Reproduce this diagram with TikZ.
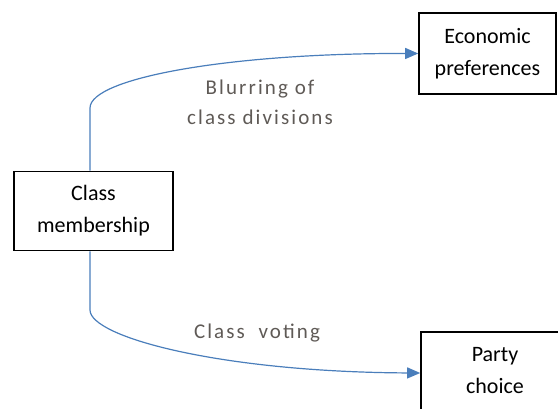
\documentclass[tikz,border=0pt]{standalone}
\usepackage{fontspec}
\setmainfont{Carlito}
\newfontfamily\spacedfont[LetterSpace=10]{Carlito}
\usetikzlibrary{arrows.meta}
\definecolor{linkblue}{RGB}{74,126,187}
\definecolor{labelgray}{RGB}{95,90,86}
\tikzset{
  boxnode/.style={draw=black, line width=1.6pt, fill=white, align=center,
    font=\fontsize{22}{32}\selectfont, inner sep=0pt},
  linkarrow/.style={draw=linkblue, line width=1.2pt,
    -{Triangle[length=13pt,width=11pt]}},
  linklabel/.style={text=labelgray, align=center,
    font=\spacedfont\fontsize{21}{30}\selectfont}
}
\begin{document}
\begin{tikzpicture}[x=1pt,y=-1pt]
\useasboundingbox (0,0) rectangle (558,408);
\node[boxnode, minimum width=159pt, minimum height=79pt] (cm) at (93.5,211) {Class\\membership};
\node[boxnode, minimum width=137pt, minimum height=81pt] (ep) at (487.5,53.5) {Economic\\preferences};
\node[boxnode, minimum width=148pt, minimum height=78pt] (pc) at (495,371) {Party\\choice};
\coordinate (up) at (90,108);
\coordinate (down) at (90,310);
\draw[linkarrow] ([xshift=-3.5pt]cm.north) -- (up) .. controls (90,78) and (230,53) .. (ep.west);
\draw[linkarrow] ([xshift=-3.5pt]cm.south) -- (down) .. controls (90,337) and (220,372) .. (pc.west |- 0,373);
\node[linklabel] (l1) at (260,102) {Blurring of\\class divisions};
\node[linklabel] (l2) at (257,333) {Class\ \ voting};
\end{tikzpicture}
\end{document}
